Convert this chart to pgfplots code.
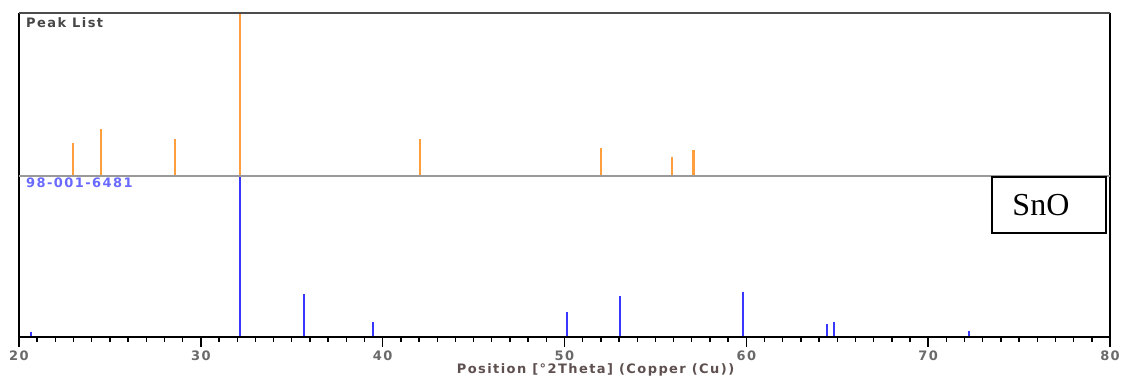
\documentclass[border=0pt]{standalone}
\usepackage{pgfplots}
\pgfplotsset{compat=1.18}
\usepackage{fontspec}
\setmainfont{Liberation Serif}
\newfontfamily\xsans[LetterSpace=11]{DejaVu Sans}
\definecolor{pkorange}{RGB}{255,158,60}
\definecolor{refblue}{RGB}{55,55,255}
\definecolor{reflabel}{RGB}{105,105,255}
\definecolor{ticktext}{RGB}{105,105,105}
\definecolor{labtext}{RGB}{95,80,80}
\begin{document}
\begin{tikzpicture}
\begin{axis}[name=ptop, at={(0,0)}, anchor=south west,
  scale only axis, width=1091pt, height=163pt,
  xmin=20, xmax=80, ymin=0, ymax=100,
  axis line style={draw=none}, ticks=none, clip=false]
\addplot[ycomb, color=pkorange, line width=2.2pt, mark=none] coordinates {
 (22.97,20) (24.51,29) (28.58,23) (32.17,100) (42.06,22.5) (52.0,17) (55.92,11.7) (57.09,16.1)};
\draw[black, line width=2.5pt] (rel axis cs:0,0) -- (rel axis cs:0,1);
\draw[black, line width=2.5pt] (rel axis cs:1,0) -- (rel axis cs:1,1);
\draw[gray!60!black, line width=1.6pt] (rel axis cs:0,1) -- (rel axis cs:1,1);
\node[anchor=north west, inner sep=0pt, font=\xsans\bfseries\fontsize{13}{15}\selectfont, text=black!72] at ([xshift=7pt,yshift=-4pt]rel axis cs:0,1) {Peak List};
\end{axis}
\begin{axis}[name=pbot, at={(ptop.south west)}, anchor=north west,
  scale only axis, width=1091pt, height=161pt,
  xmin=20, xmax=80, ymin=0, ymax=100,
  axis line style={draw=none}, clip=false,
  xtick={20,30,40,50,60,70,80}, minor x tick num=9, ytick=\empty,
  xtick pos=bottom, xtick align=outside,
  major tick length=10pt, minor tick length=5pt,
  tick style={black, line width=1.4pt},
  /pgf/number format/assume math mode=true,
  tick label style={font=\xsans\bfseries\fontsize{13}{15}\selectfont, text=ticktext},
  xticklabel style={yshift=0pt},
  xlabel={Position [°2Theta] (Copper (Cu))},
  xlabel style={font=\xsans\bfseries\fontsize{13}{15}\selectfont, text=labtext, xshift=31pt, yshift=4pt}]
\addplot[ycomb, color=refblue, line width=2pt, mark=none] coordinates {
 (20.64,3.3) (32.16,100) (35.66,26.9) (39.45,9.1) (46.7,0.6) (50.16,15.3) (53.03,25.6) (53.97,0.6) (59.8,27.8) (64.42,8.1) (64.84,9.5) (69.8,0.6) (72.27,3.5)};
\draw[black, line width=2.5pt] (rel axis cs:0,0) -- (rel axis cs:0,1);
\draw[black, line width=2.5pt] (rel axis cs:1,0) -- (rel axis cs:1,1);
\draw[black, line width=2pt] (rel axis cs:0,0) -- (rel axis cs:1,0);
\draw[black!40, line width=1.6pt] (rel axis cs:0,1) -- (rel axis cs:1,1);
\node[anchor=north west, inner sep=0pt, font=\xsans\bfseries\fontsize{13}{15}\selectfont, text=reflabel] at ([xshift=7pt,yshift=-2pt]rel axis cs:0,1) {98-001-6481};
\draw[black, line width=1.4pt, fill=white] (axis cs:73.51,64.6) rectangle (axis cs:79.78,99.4);
\node[font=\fontsize{32}{36}\selectfont] at (axis cs:76.2,82) {SnO};
\end{axis}
\pgfresetboundingbox
\path[use as bounding box] ([xshift=-19pt,yshift=-46pt]pbot.south west) rectangle ([xshift=11pt,yshift=13pt]ptop.north east);
\end{tikzpicture}
\end{document}
